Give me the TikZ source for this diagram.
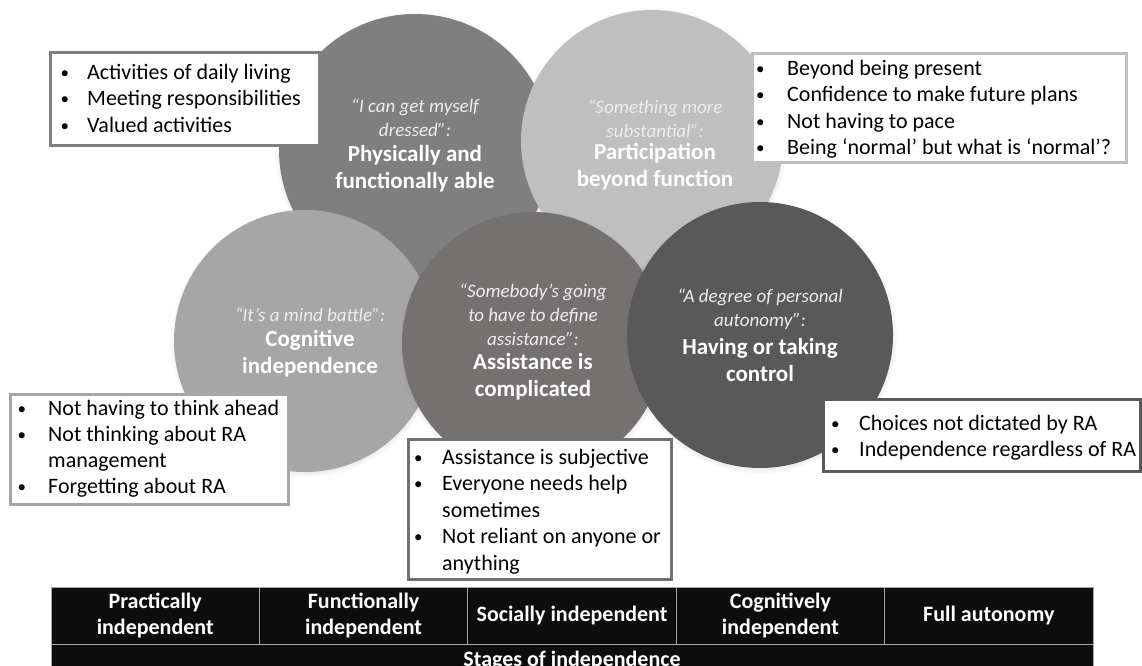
\documentclass[tikz,border=0pt]{standalone}
\usepackage{fontspec}
\setmainfont{Carlito}
\usetikzlibrary{shadows}
\definecolor{cA}{HTML}{7F7F7F}
\definecolor{cB}{HTML}{BFBFBF}
\definecolor{cC}{HTML}{A6A6A6}
\definecolor{cD}{HTML}{767171}
\definecolor{cE}{HTML}{595959}
\definecolor{qcol}{HTML}{EDEDED}
\definecolor{tblk}{HTML}{0D0D0D}
\definecolor{tline}{HTML}{A6A6A6}
\newcommand\mybul{\raisebox{1.2pt}{\fontsize{17}{17}\selectfont•}}
\begin{document}
\begin{tikzpicture}[x=1pt,y=-1pt,
  circ/.style={circle,inner sep=0pt,draw=none,
    circular drop shadow={shadow xshift=0pt,shadow yshift=-1.5pt,shadow scale=1.03,opacity=0.45}},
  qt/.style={align=center,text=qcol,font=\fontsize{19}{24}\selectfont\itshape,inner sep=0pt},
  lbl/.style={align=center,text=white,font=\fontsize{23}{27}\selectfont\bfseries,inner sep=0pt},
  bframe/.style={rectangle,anchor=north west,fill=white,line width=2.5pt,inner sep=0pt,
    drop shadow={shadow xshift=2pt,shadow yshift=-2pt,opacity=0.3}},
  btext/.style={anchor=north west,inner sep=0pt,font=\fontsize{22}{26.5}\selectfont},
  cell/.style={rectangle,fill=tblk,draw=tline,line width=0.8pt,inner sep=0pt,text=white,
    align=center,font=\fontsize{22}{26}\selectfont\bfseries,minimum height=57pt,minimum width=208.4pt}]
\useasboundingbox (0,0) rectangle (1142,665);
\fill[white] (0,0) rectangle (1142,665);
% circles
\node[circ,fill=cA,minimum size=272pt] (k1) at (415,150) {};
\node[circ,fill=cB,minimum size=262pt] (k2) at (652,141) {};
\node[circ,fill=cC,minimum size=262pt] (k3) at (305,341) {};
\node[circ,fill=cD,minimum size=262pt] (k4) at (533,343) {};
\node[circ,fill=cE,minimum size=266pt] (k5) at (760,335) {};
% circle texts
\node[qt] (q1) at (415,118) {“I can get myself\\dressed”:};
\node[lbl] (l1) at (415,169) {Physically and\\functionally able};
\node[qt] (q2) at (655,119) {“Something more\\substantial”:};
\node[lbl] (l2) at (655,167) {Participation\\beyond function};
\node[qt] (q3) at (310,315) {“It’s a mind battle”:};
\node[lbl] (l3) at (310,353.5) {Cognitive\\independence};
\node[qt] (q4) at (533,315) {“Somebody’s going\\to have to define\\assistance”:};
\node[lbl] (l4) at (533,376.5) {Assistance is\\complicated};
\node[qt] (q5) at (760,309.5) {“A degree of personal\\autonomy”:};
\node[lbl] (l5) at (760,360) {Having or taking\\control};
% boxes
\node[bframe,draw=cA,minimum width=269pt,minimum height=93pt] (b1) at (49,51) {};
\node[btext] (b1t) at (60.5,60.5) {\begin{tabular}{@{}p{26.5pt}@{}l@{}}\mybul&Activities of daily living\\\mybul&Meeting responsibilities\\\mybul&Valued activities\end{tabular}};
\node[bframe,draw=cB,minimum width=374pt,minimum height=109pt] (b2) at (751,52) {};
\node[btext] (b2t) at (756,56.5) {\begin{tabular}{@{}p{31pt}@{}l@{}}\mybul&Beyond being present\\\mybul&Confidence to make future plans\\\mybul&Not having to pace\\\mybul&Being ‘normal’ but what is ‘normal’?\end{tabular}};
\node[bframe,draw=cC,minimum width=278pt,minimum height=110pt] (b3) at (9,393) {};
\node[btext,font=\fontsize{22}{26}\selectfont] (b3t) at (17.5,397.3) {\begin{tabular}{@{}p{30.5pt}@{}l@{}}\mybul&Not having to think ahead\\\mybul&Not thinking about RA\\&management\\\mybul&Forgetting about RA\end{tabular}};
\node[bframe,draw=cD,minimum width=263pt,minimum height=140pt] (b4) at (407,438) {};
\node[btext] (b4t) at (414,445.5) {\begin{tabular}{@{}p{28pt}@{}l@{}}\mybul&Assistance is subjective\\\mybul&Everyone needs help\\&sometimes\\\mybul&Not reliant on anyone or\\&anything\end{tabular}};
\node[bframe,draw=cE,minimum width=317pt,minimum height=72pt] (b5) at (822,398) {};
\node[btext] (b5t) at (831,411.5) {\begin{tabular}{@{}p{28pt}@{}l@{}}\mybul&Choices not dictated by RA\\\mybul&Independence regardless of RA\end{tabular}};
% table
\node[cell] (c1) at (155.2,615.5) {Practically\\independent};
\node[cell] (c2) at (363.6,615.5) {Functionally\\independent};
\node[cell] (c3) at (572.0,615.5) {Socially independent};
\node[cell] (c4) at (780.4,615.5) {Cognitively\\independent};
\node[cell] (c5) at (988.8,615.5) {Full autonomy};
\node[cell,minimum width=1042pt,minimum height=34pt] (st) at (572,661) {Stages of independence};
\end{tikzpicture}
\end{document}
